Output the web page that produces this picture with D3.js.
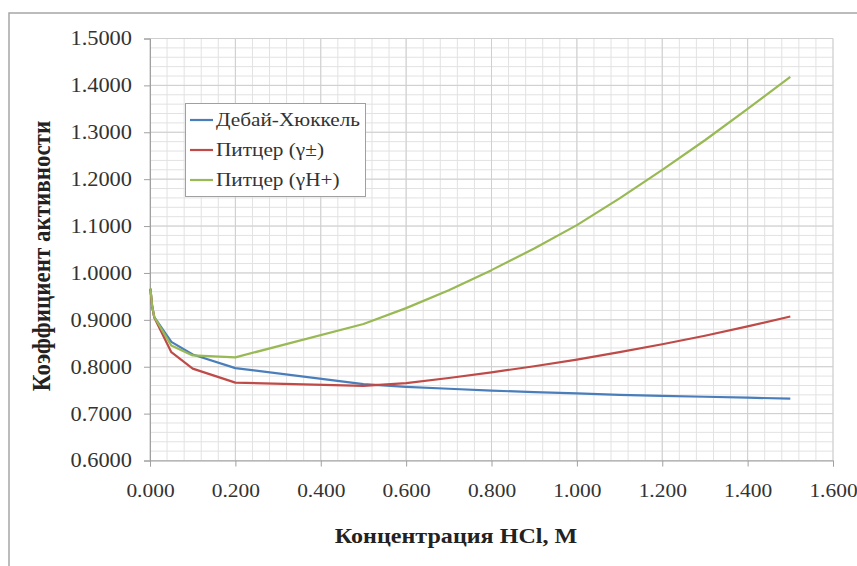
<!DOCTYPE html>
<html><head><meta charset="utf-8">
<script src="https://cdn.jsdelivr.net/npm/d3@7/dist/d3.min.js"></script>
<style>body{margin:0;background:#fff}svg{display:block}</style>
</head><body><svg id="c" width="857" height="566"></svg>
<script>
const conc = [0.001, 0.005, 0.01, 0.05, 0.1, 0.2, 0.5, 0.6, 0.7, 0.8, 0.9, 1.0, 1.1, 1.2, 1.3, 1.4, 1.5];
const debye = [0.966, 0.929, 0.906, 0.853, 0.826, 0.797, 0.763, 0.757, 0.753, 0.749, 0.746, 0.743, 0.740, 0.738, 0.736, 0.734, 0.732];
const pitzerPM = [0.966, 0.929, 0.905, 0.831, 0.796, 0.766, 0.759, 0.765, 0.776, 0.788, 0.801, 0.815, 0.831, 0.848, 0.866, 0.886, 0.907];
const pitzerH = [0.967, 0.930, 0.906, 0.845, 0.824, 0.820, 0.891, 0.925, 0.963, 1.006, 1.052, 1.102, 1.159, 1.220, 1.283, 1.350, 1.418];
const seriesNames = ["Дебай-Хюккель", "Питцер (γ±)", "Питцер (γH+)"];
const seriesColors = ["#4a7ebb", "#be4b48", "#98b954"];
const xTicks = [0, 0.2, 0.4, 0.6, 0.8, 1.0, 1.2, 1.4, 1.6];
const yTicks = [0.6, 0.7, 0.8, 0.9, 1.0, 1.1, 1.2, 1.3, 1.4, 1.5];
const xTitle = "Концентрация HCl, M";
const yTitle = "Коэффициент активности";

const svg = d3.select("#c");
const L = 150, R = 833, T = 38.5, B = 460.5;
const SX = 1.12; // horizontal text stretch seen in the reference
const x = d3.scaleLinear().domain([0, 1.6]).range([L, R]);
const y = d3.scaleLinear().domain([0.6, 1.5]).range([B, T]);
const font = "Liberation Serif";

svg.append("rect").attr("x", 9).attr("y", 13).attr("width", 900).attr("height", 600)
  .attr("fill", "#fff").attr("stroke", "#a6a6a6").attr("stroke-width", 1.5);

const g = svg.append("g");
const xMinor = d3.range(0, 1.6001, 0.04);
const yMinor = d3.range(0.6, 1.5001, 0.02);
g.selectAll(".xm").data(xMinor).join("line")
  .attr("x1", d => x(d)).attr("x2", d => x(d)).attr("y1", T).attr("y2", B)
  .attr("stroke", "#e2e2e2").attr("stroke-width", 1);
g.selectAll(".ym").data(yMinor).join("line")
  .attr("x1", L).attr("x2", R).attr("y1", d => y(d)).attr("y2", d => y(d))
  .attr("stroke", "#e2e2e2").attr("stroke-width", 1);
g.selectAll(".xM").data(xTicks).join("line")
  .attr("x1", d => x(d)).attr("x2", d => x(d)).attr("y1", T).attr("y2", B)
  .attr("stroke", "#cfcfcf").attr("stroke-width", 1);
g.selectAll(".yM").data(yTicks).join("line")
  .attr("x1", L).attr("x2", R).attr("y1", d => y(d)).attr("y2", d => y(d))
  .attr("stroke", "#cfcfcf").attr("stroke-width", 1);

const xAxis = d3.axisBottom(x).tickValues(xTicks).tickFormat(d3.format(".3f")).tickSize(6).tickPadding(17);
const yAxis = d3.axisLeft(y).tickValues(yTicks).tickFormat(d3.format(".4f")).tickSize(6).tickPadding(12);
const gx = svg.append("g").attr("transform", `translate(0,${B})`).call(xAxis);
const gy = svg.append("g").attr("transform", `translate(${L},0)`).call(yAxis);
[gx, gy].forEach(a => {
  a.attr("font-family", font);
  a.select(".domain").attr("stroke", "#a0a0a0");
  a.selectAll(".tick line").attr("stroke", "#a0a0a0");
  a.selectAll("text").attr("font-size", 20).attr("fill", "#333").attr("transform", `scale(${SX},1)`);
});
gx.selectAll("text").attr("font-size", 19.5).attr("transform", `scale(1.1,1)`);
gy.selectAll("text").attr("x", -18 / SX);

const all = [debye, pitzerPM, pitzerH];
const line = d3.line().x(d => x(d[0])).y(d => y(d[1]));
all.forEach((vals, i) => {
  svg.append("path").datum(conc.map((c, j) => [c, vals[j]]))
    .attr("d", line).attr("fill", "none").attr("stroke", seriesColors[i])
    .attr("stroke-width", 2.2).attr("stroke-linejoin", "round");
});

const lg = svg.append("g");
lg.append("rect").attr("x", 185.5).attr("y", 103.5).attr("width", 180).attr("height", 93)
  .attr("fill", "#fff").attr("stroke", "#a0a0a0").attr("stroke-width", 1);
seriesNames.forEach((n, i) => {
  const yy = 120 + i * 30;
  lg.append("line").attr("x1", 190).attr("x2", 213).attr("y1", yy).attr("y2", yy)
    .attr("stroke", seriesColors[i]).attr("stroke-width", 2.2);
  lg.append("text").attr("transform", `translate(216,${yy + 6}) scale(${SX},1)`).text(n)
    .attr("font-family", font).attr("font-size", 19).attr("fill", "#333");
});

svg.append("text").attr("transform", `translate(456,543) scale(${SX},1)`).attr("text-anchor", "middle")
  .attr("font-family", font).attr("font-size", 21.5).attr("font-weight", "bold").attr("fill", "#222").text(xTitle);
svg.append("text").attr("transform", `translate(50,256) rotate(-90) scale(1,${SX})`).attr("text-anchor", "middle")
  .attr("font-family", font).attr("font-size", 23).attr("font-weight", "bold").attr("fill", "#222").text(yTitle);
</script></body></html>
